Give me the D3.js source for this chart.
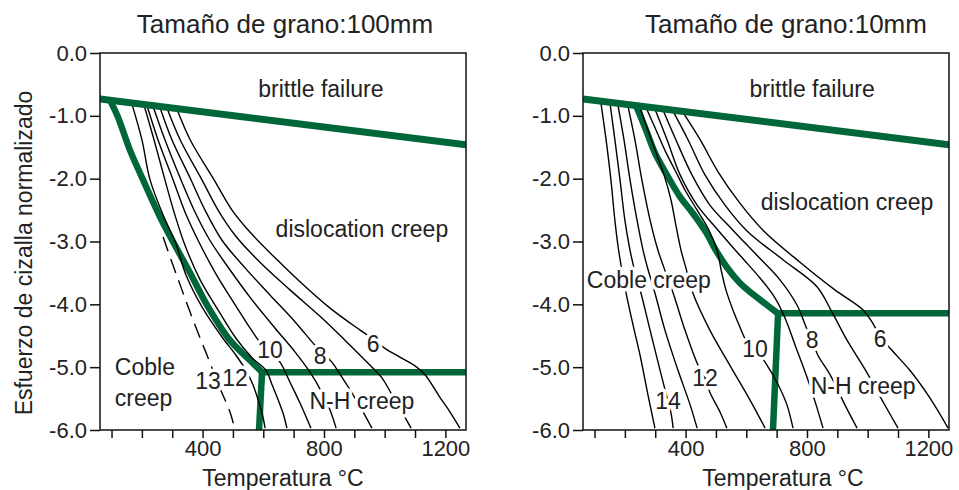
<!DOCTYPE html>
<html>
<head>
<meta charset="utf-8">
<script src="https://cdn.jsdelivr.net/npm/d3@7"></script>
<style>
    body { margin: 0; background: #fff; }
    text { font-family: "Liberation Sans", Arial, Helvetica, sans-serif; fill: #222; }
</style>
</head>
<body>
<svg id="chart" width="959" height="490"></svg>
<script>
(function () {
    'use strict';

    // axes: temperature (°C) and log normalised shear stress
    var tempTicks = [100, 200, 300, 400, 500, 600, 700, 800, 900, 1000, 1100, 1200];
    var tempLabels = [400, 800, 1200];
    var stressTicks = [0, -1, -2, -3, -4, -5, -6];

    // brittle failure limit (same in both maps)
    var brittle = [[62, -0.73], [1268, -1.46]];

    // ---- grain size 100 ----
    var bound100 = [[95, -0.75], [121, -1.02], [161, -1.55], [204, -2.02], [260, -2.61], [309, -3.06],
        [359, -3.50], [418, -4.04], [490, -4.57], [556, -4.89], [596, -5.08]];
    var nh100 = [[596, -5.08], [1268, -5.08]];
    var coble100 = [[596, -5.08], [586, -6.0]];

    var c100_6 = [[316, -0.90], [359, -1.38], [438, -2.02], [497, -2.50], [556, -2.85], [639, -3.26], [721, -3.64],
        [820, -4.06], [919, -4.41], [958, -4.54], [1001, -4.70], [1050, -4.84], [1100, -4.98], [1133, -5.12],
        [1182, -5.48], [1215, -5.71], [1248, -5.97]];
    var c100_7 = [[283, -0.88], [326, -1.38], [398, -2.02], [451, -2.50], [507, -2.90], [589, -3.33], [688, -3.77],
        [787, -4.19], [869, -4.57], [952, -4.97], [991, -5.17], [1024, -5.44], [1057, -5.71], [1087, -5.97]];
    var c100_8 = [[260, -0.87], [299, -1.38], [362, -2.02], [408, -2.50], [464, -2.98], [540, -3.42], [622, -3.85],
        [705, -4.28], [770, -4.65], [803, -4.81], [826, -4.92], [859, -5.16], [896, -5.44], [925, -5.68], [958, -5.97]];
    var c100_9 = [[237, -0.85], [276, -1.38], [329, -2.02], [375, -2.53], [424, -2.98], [490, -3.45], [563, -3.93],
        [639, -4.38], [705, -4.76], [754, -5.08], [793, -5.40], [820, -5.68], [840, -5.97]];
    var c100_10 = [[217, -0.84], [253, -1.38], [303, -2.02], [342, -2.53], [385, -2.98], [441, -3.49], [497, -3.93],
        [550, -4.33], [596, -4.65], [622, -4.76], [655, -4.92], [688, -5.24], [721, -5.57], [757, -5.97]];
    var c100_11 = [[207, -0.83], [240, -1.38], [276, -2.02], [309, -2.58], [342, -3.06], [392, -3.61], [451, -4.09],
        [510, -4.54], [563, -4.85], [609, -5.05], [629, -5.28], [649, -5.52], [665, -5.73], [678, -5.97]];
    var c100_12 = [[167, -0.81], [200, -1.38], [227, -2.02], [270, -2.58], [312, -3.03], [345, -3.53], [398, -4.04],
        [464, -4.52], [510, -4.81], [543, -5.05], [566, -5.28], [583, -5.52], [596, -5.73], [606, -5.97]];
    var c100_13 = [[270, -2.93], [299, -3.33], [332, -3.77], [375, -4.33], [418, -4.85], [457, -5.33], [490, -5.71],
        [507, -6.00]];

    var lab100 = [['6', 962, -4.62], ['8', 787, -4.81], ['10', 622, -4.73], ['12', 507, -5.17], ['13', 418, -5.22]];
    var reg100 = [['brittle failure', 790, -0.57, 'middle'], ['dislocation creep', 925, -2.80, 'middle'],
        ['Coble', 111, -5.00, 'start'], ['creep', 111, -5.49, 'start'], ['N-H creep', 925, -5.54, 'middle']];

    // ---- grain size 10 ----
    var bound10 = [[237, -0.84], [270, -1.23], [299, -1.59], [335, -1.91], [382, -2.29], [424, -2.55], [467, -2.85],
        [500, -3.14], [536, -3.41], [579, -3.66], [612, -3.80], [668, -4.01], [703, -4.14]];
    var nh10 = [[703, -4.14], [1268, -4.14]];
    var coble10 = [[705, -4.14], [688, -6.0]];

    var c10_6 = [[392, -0.95], [448, -1.38], [507, -1.89], [579, -2.39], [655, -2.82], [777, -3.33], [892, -3.77],
        [985, -4.09], [1014, -4.28], [1041, -4.50], [1074, -4.70], [1139, -5.05], [1205, -5.49], [1265, -5.97]];
    var c10_7 = [[359, -0.93], [408, -1.38], [464, -1.94], [530, -2.42], [606, -2.85], [721, -3.29], [833, -3.72],
        [882, -4.12], [932, -4.57], [998, -5.09], [1047, -5.52], [1100, -5.97]];
    var c10_8 = [[326, -0.91], [368, -1.38], [421, -1.94], [480, -2.42], [556, -2.82], [635, -3.22], [711, -3.61],
        [767, -4.01], [797, -4.36], [817, -4.57], [836, -4.81], [876, -5.12], [925, -5.60], [965, -5.97]];
    var c10_9 = [[299, -0.89], [339, -1.38], [382, -1.94], [438, -2.42], [507, -2.82], [579, -3.22], [645, -3.58],
        [695, -3.90], [728, -4.22], [761, -4.65], [803, -5.20], [830, -5.60], [853, -5.97]];
    var c10_10 = [[270, -0.87], [303, -1.23], [336, -1.59], [368, -1.89], [398, -2.18], [438, -2.50], [477, -2.82],
        [504, -3.14], [517, -3.45], [533, -3.77], [556, -4.09], [579, -4.36], [599, -4.57], [632, -4.73],
        [662, -4.92], [705, -5.28], [734, -5.60], [754, -5.97]];
    var c10_11 = [[250, -0.86], [276, -1.23], [303, -1.59], [329, -1.94], [352, -2.34], [368, -2.74], [385, -3.14],
        [401, -3.42], [424, -3.82], [480, -4.41], [546, -4.97], [612, -5.52], [662, -5.97]];
    var c10_12 = [[210, -0.84], [233, -1.38], [256, -2.02], [283, -2.66], [309, -3.14], [329, -3.42], [359, -3.82],
        [398, -4.41], [441, -4.97], [464, -5.17], [480, -5.40], [513, -5.71], [536, -5.97]];
    var c10_13 = [[177, -0.82], [197, -1.38], [217, -2.02], [240, -2.66], [260, -3.14], [273, -3.39], [299, -3.82],
        [332, -4.41], [375, -5.05], [415, -5.60], [438, -5.97]];
    var c10_14 = [[151, -0.80], [167, -1.38], [184, -2.02], [200, -2.66], [217, -3.14], [230, -3.42], [253, -3.82],
        [283, -4.41], [316, -5.05], [335, -5.41], [352, -5.73], [359, -5.97]];
    var c10_15 = [[121, -0.79], [138, -1.38], [154, -2.02], [167, -2.66], [177, -3.06], [187, -3.37], [204, -3.82],
        [227, -4.33], [250, -4.81], [276, -5.44], [299, -5.97]];

    var lab10 = [['6', 1041, -4.54], ['8', 817, -4.57], ['10', 629, -4.71], ['12', 464, -5.17], ['14', 342, -5.54]];
    var reg10 = [['brittle failure', 817, -0.57, 'middle'], ['dislocation creep', 932, -2.36, 'middle'],
        ['Coble creep', 279, -3.61, 'middle'], ['N-H creep', 985, -5.30, 'middle']];

    var green = '#00673a';
    var top = 53, pw = 366, ph = 377;
    var svg = d3.select('#chart');

    function drawPanel(cfg) {
        var g = svg.append('g').attr('transform', 'translate(' + cfg.left + ',' + top + ')');

        var x = d3.scaleLinear().domain([62, 1268]).range([0, pw]);
        var y = d3.scaleLinear().domain([0, -6]).range([0, ph]);

        var smooth = d3.line()
            .x(function (d) { return x(d[0]); })
            .y(function (d) { return y(d[1]); })
            .curve(d3.curveCatmullRom.alpha(0.5));
        var straight = d3.line()
            .x(function (d) { return x(d[0]); })
            .y(function (d) { return y(d[1]); });

        g.append('clipPath').attr('id', 'clip-' + cfg.id)
            .append('rect').attr('width', pw).attr('height', ph);

        var plot = g.append('g').attr('clip-path', 'url(#clip-' + cfg.id + ')');

        // regime boundaries
        [[cfg.bound, smooth], [cfg.nh, straight], [cfg.coble, straight]].forEach(function (b) {
            plot.append('path')
                .datum(b[0])
                .attr('d', b[1])
                .attr('fill', 'none')
                .attr('stroke', green)
                .attr('stroke-width', 6.5)
                .attr('stroke-linejoin', 'round');
        });

        // strain rate contours
        cfg.contours.forEach(function (c) {
            plot.append('path')
                .datum(c.pts)
                .attr('d', smooth)
                .attr('fill', 'none')
                .attr('stroke', '#000')
                .attr('stroke-width', 1.4)
                .attr('stroke-dasharray', c.dash ? '15,8' : null);
        });

        plot.append('path')
            .datum(brittle)
            .attr('d', straight)
            .attr('fill', 'none')
            .attr('stroke', green)
            .attr('stroke-width', 7);

        // labels, with a white halo that cuts the lines
        var labels = cfg.labels.map(function (l) { return [l[0], l[1], l[2], 'middle']; }).concat(cfg.regions);
        g.selectAll('text.lab')
            .data(labels)
            .enter().append('text')
            .attr('class', 'lab')
            .attr('x', function (d) { return x(d[1]); })
            .attr('y', function (d) { return y(d[2]); })
            .attr('dy', '0.36em')
            .attr('text-anchor', function (d) { return d[3]; })
            .attr('font-size', 23)
            .style('stroke', '#fff')
            .style('stroke-width', 7)
            .style('stroke-linejoin', 'round')
            .style('paint-order', 'stroke')
            .text(function (d) { return d[0]; });

        g.append('rect')
            .attr('width', pw).attr('height', ph)
            .attr('fill', 'none')
            .attr('stroke', '#111')
            .attr('stroke-width', 1.5);

        var yAxis = d3.axisLeft(y)
            .tickValues(stressTicks)
            .tickSize(10)
            .tickPadding(3)
            .tickFormat(function (d) { return d.toFixed(1); });
        var xAxis = d3.axisBottom(x)
            .tickValues(tempTicks)
            .tickSize(8)
            .tickPadding(2)
            .tickFormat(function (d) { return tempLabels.indexOf(d) >= 0 ? d : ''; });

        [g.append('g').call(yAxis), g.append('g').attr('transform', 'translate(0,' + ph + ')').call(xAxis)]
            .forEach(function (a) {
                a.select('.domain').remove();
                a.attr('font-size', 22).attr('font-family', null);
                a.selectAll('line').attr('stroke', '#111').attr('stroke-width', 1.5);
                a.selectAll('text').attr('fill', '#222');
            });

        g.append('text')
            .attr('x', cfg.titleX).attr('y', -20)
            .attr('text-anchor', 'middle')
            .attr('font-size', 26)
            .text(cfg.title);

        g.append('text')
            .attr('x', cfg.xTitleX).attr('y', ph + 56)
            .attr('text-anchor', 'middle')
            .attr('font-size', 23)
            .text('Temperatura °C');
    }

    drawPanel({
        id: 'a', left: 100, title: 'Tamaño de grano:100mm', titleX: 185, xTitleX: 183,
        bound: bound100, nh: nh100, coble: coble100,
        contours: [
            { pts: c100_6 }, { pts: c100_7 }, { pts: c100_8 }, { pts: c100_9 },
            { pts: c100_10 }, { pts: c100_11 }, { pts: c100_12 }, { pts: c100_13, dash: true }
        ],
        labels: lab100, regions: reg100
    });

    drawPanel({
        id: 'b', left: 583, title: 'Tamaño de grano:10mm', titleX: 203, xTitleX: 200,
        bound: bound10, nh: nh10, coble: coble10,
        contours: [
            { pts: c10_6 }, { pts: c10_7 }, { pts: c10_8 }, { pts: c10_9 }, { pts: c10_10 },
            { pts: c10_11 }, { pts: c10_12 }, { pts: c10_13 }, { pts: c10_14 }, { pts: c10_15 }
        ],
        labels: lab10, regions: reg10
    });

    svg.append('text')
        .attr('transform', 'translate(32,253) rotate(-90)')
        .attr('text-anchor', 'middle')
        .attr('font-size', 23)
        .text('Esfuerzo de cizalla normalizado');
}());
</script>
</body>
</html>
